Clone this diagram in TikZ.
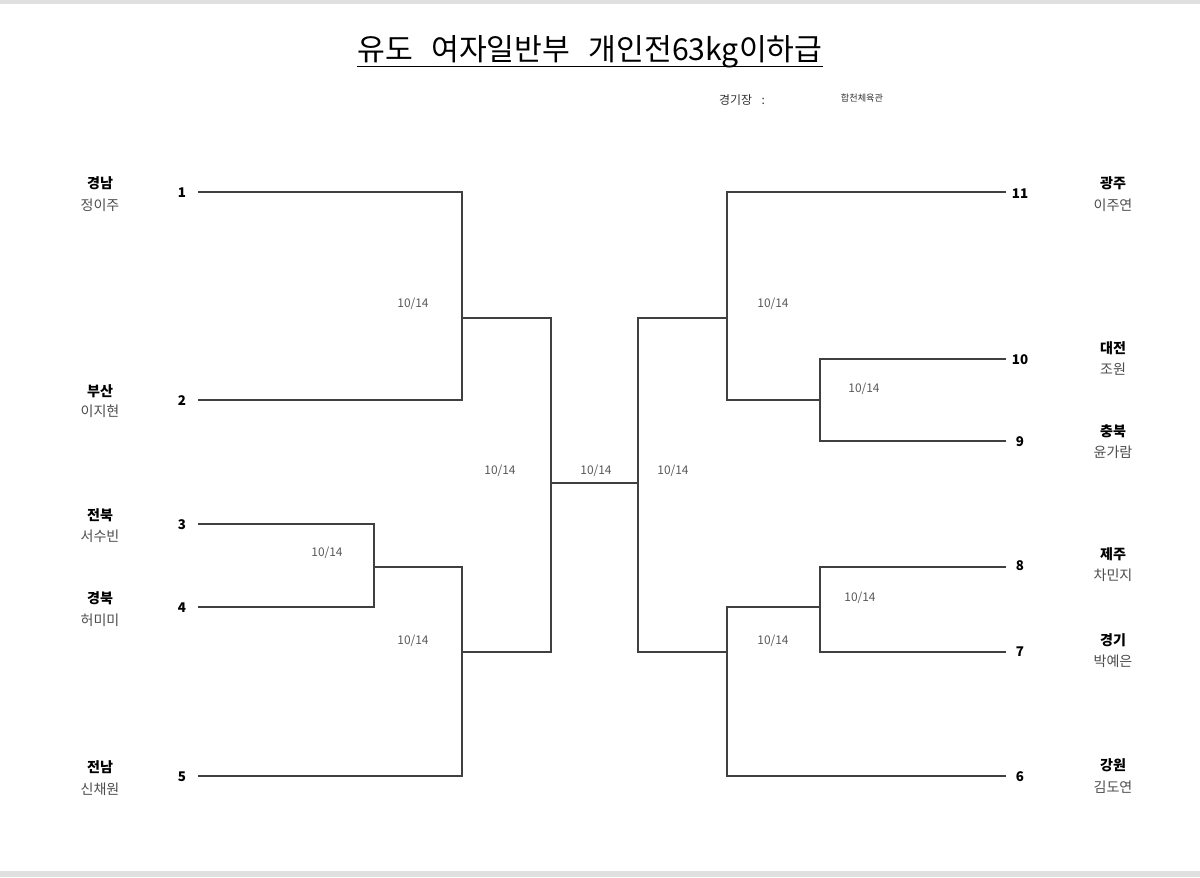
\documentclass[tikz,border=0pt]{standalone}
\usepackage{fontspec}
\setmainfont{Noto Sans CJK KR}
\tikzset{
  region/.style={font=\bfseries\fontsize{10}{12}\selectfont, inner sep=0pt},
  player/.style={font=\fontsize{10}{12}\selectfont, text=black!70, inner sep=0pt},
  seed/.style={font=\bfseries\fontsize{9.5}{11}\selectfont, inner sep=0pt},
  date/.style={font=\fontsize{8.5}{10}\selectfont, text=black!65, inner sep=0pt},
  bracket/.style={line width=0.8pt, draw=black!75},
}
\begin{document}
\begin{tikzpicture}[x=0.025cm, y=-0.025cm]
  \useasboundingbox (0,0) rectangle (1200,877);
  % page edges
  \fill[black!12] (0,0) rectangle (1200,4);
  \fill[black!12] (0,871) rectangle (1200,877);
  % Title
  \node[font=\fontsize{21.5}{24}\selectfont, inner sep=0pt] (title) at (590,52) {유도\hspace{0.6em}여자일반부\hspace{0.6em}개인전63kg이하급};
  \draw[line width=1.2pt] ([yshift=-4pt]title.base west) -- ([yshift=-4pt]title.base east);
  \node[font=\fontsize{8.5}{10}\selectfont, text=black!80, inner sep=0pt] (venuelbl) at (742,100) {경기장\hspace{0.8em}:};
  \node[font=\fontsize{6.5}{8}\selectfont, text=black!80, inner sep=0pt] (venue) at (862,98) {합천체육관};

  % Left entrants
  \node[seed] (s1) at (182,193) {1};
  \node[region] (r1) at (100,183) {경남};
  \node[player] (n1) at (100,205) {정이주};
  \node[seed] (s2) at (182,401) {2};
  \node[region] (r2) at (100,391) {부산};
  \node[player] (n2) at (100,411) {이지현};
  \node[seed] (s3) at (182,525) {3};
  \node[region] (r3) at (100,515) {전북};
  \node[player] (n3) at (100,536) {서수빈};
  \node[seed] (s4) at (182,608) {4};
  \node[region] (r4) at (100,598) {경북};
  \node[player] (n4) at (100,620) {허미미};
  \node[seed] (s5) at (182,777) {5};
  \node[region] (r5) at (100,767) {전남};
  \node[player] (n5) at (100,789) {신채원};

  % Right entrants
  \node[seed] (s11) at (1020,194) {11};
  \node[region] (r11) at (1113,183) {광주};
  \node[player] (n11) at (1113,205) {이주연};
  \node[seed] (s10) at (1020,360) {10};
  \node[region] (r10) at (1113,348) {대전};
  \node[player] (n10) at (1113,369) {조원};
  \node[seed] (s9) at (1020,442) {9};
  \node[region] (r9) at (1113,431) {충북};
  \node[player] (n9) at (1113,452) {윤가람};
  \node[seed] (s8) at (1020,566) {8};
  \node[region] (r8) at (1113,554) {제주};
  \node[player] (n8) at (1113,575) {차민지};
  \node[seed] (s7) at (1020,652) {7};
  \node[region] (r7) at (1113,640) {경기};
  \node[player] (n7) at (1113,661) {박예은};
  \node[seed] (s6) at (1020,777) {6};
  \node[region] (r6) at (1113,765) {강원};
  \node[player] (n6) at (1113,787) {김도연};

  % line ends
  \coordinate (p1) at (198,192);
  \coordinate (p2) at (198,400);
  \coordinate (p3) at (198,524);
  \coordinate (p4) at (198,607);
  \coordinate (p5) at (198,776);
  \coordinate (p11) at (1006,192);
  \coordinate (p10) at (1006,359);
  \coordinate (p9) at (1006,441);
  \coordinate (p8) at (1006,567);
  \coordinate (p7) at (1006,652);
  \coordinate (p6) at (1006,776);
  % match points
  \coordinate (m12) at (462,318);
  \coordinate (m34) at (374,567);
  \coordinate (m345) at (462,652);
  \coordinate (cl) at (551,483);
  \coordinate (cr) at (638,483);
  \coordinate (m109) at (820,400);
  \coordinate (mtop) at (727,318);
  \coordinate (m87) at (820,607);
  \coordinate (mbot) at (727,652);

  % Left bracket
  \draw[bracket] (p1) -| (m12);
  \draw[bracket] (p2) -| (m12);
  \draw[bracket] (p3) -| (m34);
  \draw[bracket] (p4) -| (m34);
  \draw[bracket] (m34) -| (m345);
  \draw[bracket] (p5) -| (m345);
  \draw[bracket] (m12) -| (cl);
  \draw[bracket] (m345) -| (cl);
  % Final
  \draw[bracket] (cl) -- (cr);
  % Right bracket
  \draw[bracket] (p10) -| (m109);
  \draw[bracket] (p9) -| (m109);
  \draw[bracket] (m109) -| (mtop);
  \draw[bracket] (p11) -| (mtop);
  \draw[bracket] (p8) -| (m87);
  \draw[bracket] (p7) -| (m87);
  \draw[bracket] (m87) -| (mbot);
  \draw[bracket] (p6) -| (mbot);
  \draw[bracket] (mtop) -| (cr);
  \draw[bracket] (mbot) -| (cr);

  % Dates
  \node[date] (d12) at (413,304) {10/14};
  \node[date] (d34) at (327,553) {10/14};
  \node[date] (d345) at (413,641) {10/14};
  \node[date] (dl) at (500,471) {10/14};
  \node[date] (dc) at (596,471) {10/14};
  \node[date] (dr) at (673,471) {10/14};
  \node[date] (dtop) at (773,304) {10/14};
  \node[date] (d109) at (864,389) {10/14};
  \node[date] (d87) at (860,598) {10/14};
  \node[date] (dbot) at (773,641) {10/14};
\end{tikzpicture}
\end{document}
